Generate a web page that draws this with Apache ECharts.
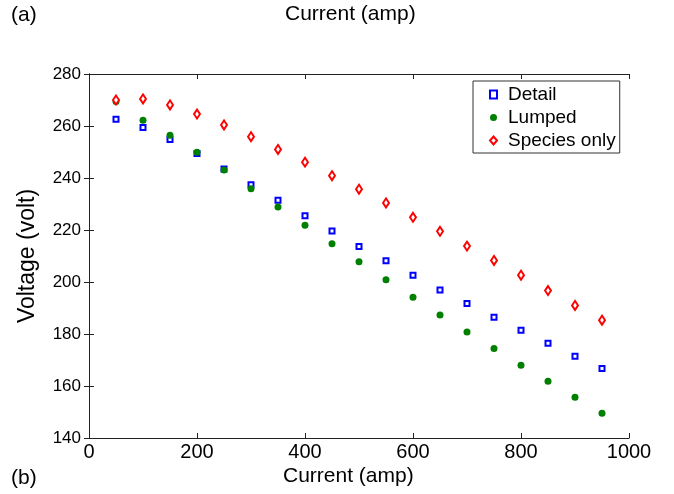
<!DOCTYPE html>
<html><head><meta charset="utf-8">
<script src="https://cdn.jsdelivr.net/npm/echarts@6/dist/echarts.min.js"></script>
<style>html,body{margin:0;padding:0;background:#fff}#c{width:674px;height:494px}</style>
</head><body><div id="c"></div>
<script>
const currents = [50,100,150,200,250,300,350,400,450,500,550,600,650,700,750,800,850,900,950];
const detail = [262.6,259.4,254.8,249.4,243.5,237.4,231.4,225.5,219.6,213.7,208.2,202.6,196.9,191.7,186.4,181.4,176.4,171.4,166.7];
const lumped = [269.4,262.2,256.4,249.9,243.1,235.9,228.8,221.8,214.7,207.8,200.9,194.1,187.3,180.8,174.4,168.0,161.8,155.7,149.5];
const species = [270.0,270.4,268.1,264.6,260.4,255.9,251.0,246.1,240.9,235.7,230.4,224.9,219.5,213.8,208.3,202.6,196.7,191.0,185.3];
const font = 'Liberation Sans, Arial, sans-serif';
const pair = a => currents.map((x,i)=>[x,a[i]]);
const chart = echarts.init(document.getElementById('c'));
const axBase = {axisLine:{show:true,lineStyle:{color:'#222',width:1}},splitLine:{show:false},
  axisTick:{inside:true,length:5,lineStyle:{color:'#222'}}};
chart.setOption({
  animation:false,
  backgroundColor:'#fff',
  textStyle:{fontFamily:font},
  graphic:[
    {type:'text',left:11,top:5,style:{text:'(a)',font:'21px '+font,fill:'#000'}},
    {type:'text',left:285,top:4,style:{text:'Current (amp)',font:'21px '+font,fill:'#000'}},
    {type:'text',left:11,top:468,style:{text:'(b)',font:'21px '+font,fill:'#000'}},
    {type:'text',left:283,top:466,style:{text:'Current (amp)',font:'21px '+font,fill:'#000'}}
  ],
  grid:{left:89,right:45,top:74,bottom:56,show:false},
  xAxis:[
    Object.assign({type:'value',min:0,max:1000,interval:200,position:'bottom',
      axisLabel:{fontSize:20,color:'#000',margin:4,fontFamily:font,formatter:v=>String(v)}},axBase),
    Object.assign({type:'value',min:0,max:1000,interval:200,position:'top',axisLabel:{show:false}},axBase)
  ],
  yAxis:[
    Object.assign({type:'value',min:140,max:280,interval:20,position:'left',
      name:'Voltage (volt)',nameLocation:'middle',nameGap:50,
      nameTextStyle:{fontSize:23,color:'#000',fontFamily:font},
      axisLabel:{fontSize:17,color:'#000',margin:8,fontFamily:font}},axBase),
    Object.assign({type:'value',min:140,max:280,interval:20,position:'right',axisLabel:{show:false}},axBase)
  ],
  legend:{
    orient:'vertical',left:473,top:81,
    backgroundColor:'#fff',borderColor:'#333',borderWidth:1,borderRadius:0,
    padding:[4,4,3,16],itemGap:4,itemWidth:7,itemHeight:8,
    textStyle:{fontSize:19,color:'#000',fontFamily:font,padding:[0,0,0,6]},
    data:['Detail','Lumped','Species only']
  },
  series:[
    {name:'Detail',type:'scatter',data:pair(detail),symbol:'rect',symbolSize:5,
      itemStyle:{color:'#fff',borderColor:'#0000ff',borderWidth:2,opacity:1}},
    {name:'Lumped',type:'scatter',data:pair(lumped),symbol:'circle',symbolSize:7,
      itemStyle:{color:'#008000',borderColor:'#008000',borderWidth:0,opacity:1}},
    {name:'Species only',type:'scatter',data:pair(species),symbol:'diamond',symbolSize:[6,9],
      itemStyle:{color:'#fff',borderColor:'#ff0000',borderWidth:2,opacity:1}}
  ]
});
</script></body></html>
